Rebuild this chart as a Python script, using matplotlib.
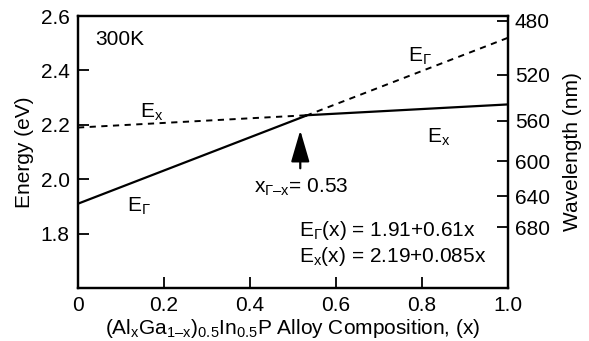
import numpy as np
import matplotlib
matplotlib.use("Agg")
import matplotlib.pyplot as plt

# band edge fits E(x) = a + b*x (eV), x = Al fraction
gamma_coef = (1.91, 0.61)
xval_coef = (2.19, 0.085)
x_cross = 0.53
wavelengths = [480, 520, 560, 600, 640, 680]  # nm, right axis
x_ticks = [0, 0.2, 0.4, 0.6, 0.8, 1.0]
x_tick_labels = ["0", "0.2", "0.4", "0.6", "0.8", "1.0"]
e_ticks = [1.8, 2.0, 2.2, 2.4, 2.6]

FS = 15
plt.rcParams["font.family"] = ["Liberation Sans", "DejaVu Sans"]
plt.rcParams["mathtext.fontset"] = "custom"
plt.rcParams["mathtext.rm"] = "Liberation Sans"
plt.rcParams["mathtext.it"] = "Liberation Sans"
plt.rcParams["font.size"] = FS


def band(coef, x):
    return coef[0] + coef[1] * np.asarray(x)


fig = plt.figure(figsize=(5.89, 3.41), dpi=100)
ax = fig.add_axes([0.1324, 0.1554, 0.730, 0.7976])

x_lo = np.array([0, x_cross])
x_hi = np.array([x_cross, 1.0])
# lowest gap is solid, the other valley dashed
ax.plot(x_lo, band(gamma_coef, x_lo), color="black", lw=1.6)
ax.plot(x_hi, band(xval_coef, x_hi), color="black", lw=1.6)
ax.plot(x_lo, band(xval_coef, x_lo), color="black", lw=1.4, ls=(0, (3.2, 2.8)))
ax.plot(x_hi, band(gamma_coef, x_hi), color="black", lw=1.4, ls=(0, (3.2, 2.8)))

ax.set_xlim(0, 1.0)
ax.set_ylim(1.6, 2.6)
ax.set_xticks(x_ticks)
ax.set_xticklabels(x_tick_labels)
ax.set_yticks(e_ticks)
ax.set_yticklabels([f"{v:.1f}" for v in e_ticks])
ax.tick_params(direction="in", length=8, width=1.3, labelsize=FS)
ax.tick_params(axis="x", pad=6)
ax.tick_params(axis="y", pad=6)
for s in ax.spines.values():
    s.set_linewidth(1.6)

ax.set_xlabel("(Al$_\\mathregular{x}$Ga$_\\mathregular{1\u2013x}$)$_\\mathregular{0.5}$"
              "In$_\\mathregular{0.5}$P Alloy Composition, (x)", fontsize=FS, labelpad=1)
ax.set_ylabel("Energy (eV)", fontsize=FS, labelpad=5)

# wavelength scale, lambda = 1240 / E
ax2 = ax.twinx()
ax2.set_ylim(ax.get_ylim())
ax2.set_yticks([1240.0 / w for w in wavelengths])
ax2.set_yticklabels([str(w) for w in wavelengths])
ax2.tick_params(direction="in", length=8, width=1.3, labelsize=FS, pad=5)
ax2.set_ylabel("Wavelength (nm)", fontsize=FS, rotation=90, labelpad=9)
for s in ax2.spines.values():
    s.set_linewidth(1.6)

ax.text(0.04, 2.515, "300K", fontsize=FS, va="center")
ax.text(0.145, 2.245, r"E$_\mathregular{x}$", fontsize=FS, va="center")
ax.text(0.113, 1.90, r"E$_\mathregular{\Gamma}$", fontsize=FS, va="center")
ax.text(0.767, 2.45, r"E$_\mathregular{\Gamma}$", fontsize=FS, va="center")
ax.text(0.812, 2.155, r"E$_\mathregular{x}$", fontsize=FS, va="center")

ax.annotate("", xy=(x_cross - 0.013, 2.19), xytext=(x_cross - 0.013, 2.03),
            arrowprops=dict(arrowstyle="-|>,head_length=1.3,head_width=0.38",
                            color="black", lw=1.6))
ax.text(x_cross - 0.012, 1.97, "x$_\\mathregular{\\Gamma\u2013x}$= " + f"{x_cross:.2f}",
        fontsize=FS, ha="center", va="center")

ax.text(0.513, 1.81, r"E$_\mathregular{\Gamma}$(x) = " + f"{gamma_coef[0]:.2f}+{gamma_coef[1]:.2f}x",
        fontsize=FS, va="center")
ax.text(0.513, 1.715, r"E$_\mathregular{x}$(x) = " + f"{xval_coef[0]:.2f}+{xval_coef[1]:.3f}x",
        fontsize=FS, va="center")

fig.savefig("out.png", dpi=100)
